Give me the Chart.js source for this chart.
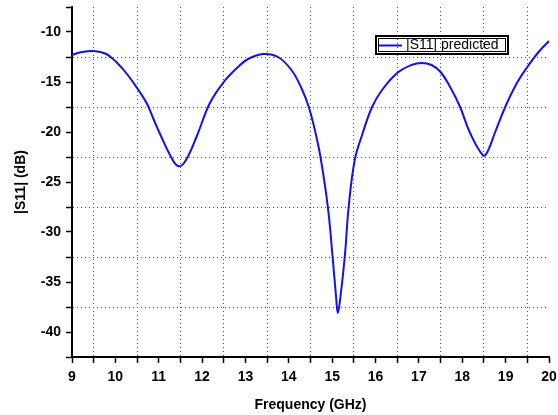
<!DOCTYPE html>
<html>
<head>
<meta charset="utf-8">
<script src="https://cdn.jsdelivr.net/npm/chart.js@4/dist/chart.umd.min.js"></script>
<style>
html,body{margin:0;padding:0;background:#fff;}
#wrap{width:558px;height:415px;}
</style>
</head>
<body>
<div id="wrap"><canvas id="c" width="558" height="415"></canvas></div>
<script>
const freq = [9.0,9.18,9.5,9.79,10.02,10.25,10.5,10.72,10.87,11.02,11.26,11.44,11.6,11.87,12.18,12.5,12.83,13.06,13.41,13.75,14.06,14.29,14.46,14.6,14.73,14.9,15.01,15.09,15.13,15.19,15.29,15.38,15.52,15.69,15.92,16.15,16.5,16.83,17.06,17.29,17.5,17.72,17.95,18.18,18.48,18.58,18.76,18.99,19.26,19.5,19.76,20.0];
const s11 = [-12.3,-12.05,-11.9,-12.2,-13.0,-14.1,-15.6,-17.1,-18.6,-20.1,-22.3,-23.4,-23.0,-20.5,-17.1,-15.0,-13.5,-12.7,-12.2,-12.5,-13.8,-15.6,-17.5,-19.8,-22.5,-27.5,-32.5,-36.5,-38.1,-36.5,-32.5,-27.5,-22.8,-20.3,-17.5,-15.8,-14.1,-13.3,-13.1,-13.3,-14.0,-15.5,-17.5,-20.1,-22.35,-22.0,-20.0,-17.5,-15.1,-13.5,-12.0,-10.9];
const seriesName = '|S11| predicted';
const xTitle = 'Frequency (GHz)';
const yTitle = '|S11| (dB)';

const FONT = "'Liberation Sans', Arial, Helvetica, sans-serif";
const near = (a,b)=>Math.abs(a-b)<1e-6;

const legendBox = {
  id:'legendBox',
  afterDraw(chart){
    const ctx = chart.ctx;
    const x0=375, y0=35, w=134, h=20;
    ctx.save();
    ctx.strokeStyle='#000';
    ctx.lineWidth=2;
    ctx.strokeRect(x0+1,y0+1,w-2,h-2);
    ctx.lineWidth=1;
    ctx.strokeRect(x0+3.5,y0+3.5,w-7,h-7);
    const ds = chart.data.datasets[0];
    ctx.strokeStyle=ds.borderColor;
    ctx.lineWidth=2;
    ctx.beginPath();
    ctx.moveTo(x0+4,y0+10.5);
    ctx.lineTo(x0+27,y0+10.5);
    ctx.stroke();
    ctx.fillStyle='#000';
    ctx.font="14px "+FONT;
    ctx.textBaseline='middle';
    ctx.fillText(ds.label,x0+31,y0+10.5);
    ctx.restore();
  }
};

new Chart(document.getElementById('c'),{
  type:'line',
  data:{
    datasets:[{
      label:seriesName,
      data:freq.map((f,i)=>({x:f,y:s11[i]})),
      borderColor:'#1010ff',
      borderWidth:2,
      pointRadius:0,
      fill:false,
      tension:0.4
    }]
  },
  options:{
    responsive:false,
    animation:false,
    devicePixelRatio:1,
    layout:{padding:{left:0,right:9,top:7,bottom:0}},
    plugins:{legend:{display:false},tooltip:{enabled:false}},
    scales:{
      x:{
        type:'linear',
        min:9,max:20,
        afterFit(s){s.height=58;s.paddingLeft=0;s.paddingRight=0;},
        ticks:{
          stepSize:0.5,
          autoSkip:false,
          maxRotation:0,
          padding:6,
          color:'#000',
          font:{family:FONT,size:14,weight:'bold'},
          callback:(v)=>near(v%1,0)?String(v):''
        },
        grid:{
          drawTicks:true,
          tickLength:6,
          lineWidth:1,
          color:(c)=>{const v=c.tick?c.tick.value:0;return near(v%1,0)?'rgba(0,0,0,0)':'#555';},
          tickColor:'#000',
          tickWidth:1.5
        },
        border:{display:true,color:'#000',width:2,dash:[1,3]},
        title:{display:true,text:xTitle,color:'#000',font:{family:FONT,size:14,weight:'bold'},padding:{top:0,bottom:1}}
      },
      y:{
        type:'linear',
        min:-42.5,max:-7.5,
        afterFit(s){s.width=72;s.paddingTop=0;s.paddingBottom=0;},
        ticks:{
          stepSize:2.5,
          autoSkip:false,
          padding:5,
          color:'#000',
          font:{family:FONT,size:14,weight:'bold'},
          callback:(v)=>near(Math.abs(v%5),0)?String(v):''
        },
        grid:{
          drawTicks:true,
          tickLength:6,
          lineWidth:1,
          color:(c)=>{const v=c.tick?c.tick.value:0;return (near(Math.abs(v%5),0)||near(v,-7.5)||near(v,-42.5))?'rgba(0,0,0,0)':'#555';},
          tickColor:'#000',
          tickWidth:1.5
        },
        border:{display:true,color:'#000',width:2,dash:[1,3]},
        title:{display:true,text:yTitle,color:'#000',font:{family:FONT,size:14,weight:'bold'},padding:{top:13,bottom:0}}
      }
    }
  },
  plugins:[legendBox]
});
</script>
</body>
</html>
